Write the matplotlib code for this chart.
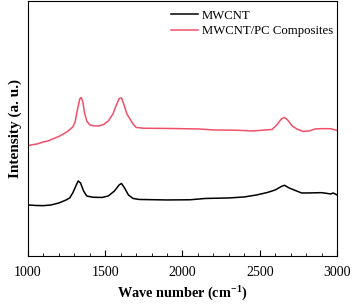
import matplotlib.pyplot as plt
from matplotlib.ticker import MultipleLocator

plt.rcParams['font.family'] = ['Liberation Serif', 'DejaVu Serif']

# wave numbers (cm-1) and intensities (a. u.)
wn_cnt = [1000, 1050, 1100, 1150, 1200, 1240, 1270, 1290, 1310, 1325, 1340, 1360,
          1380, 1420, 1480, 1520, 1560, 1590, 1605, 1625, 1650, 1680, 1720, 1900,
          2050, 2150, 2300, 2400, 2480, 2550, 2600, 2640, 2660, 2690, 2730, 2770,
          2820, 2900, 2960, 2975, 3000]
px_cnt = [205, 205.5, 205.7, 205, 203, 200.5, 198, 193, 186, 181, 183, 191,
          196, 197.3, 197.5, 196, 191, 185, 183.5, 188, 195, 198.5, 199.5, 200,
          199.8, 198.5, 198, 197, 195, 192.5, 190, 186.5, 185.3, 188, 190.5, 193,
          193, 192.7, 194, 193, 195]

wn_pc = [1000, 1020, 1040, 1060, 1080, 1100, 1130, 1160, 1200, 1230, 1260, 1290,
         1305, 1320, 1335, 1345, 1355, 1365, 1380, 1400, 1430, 1460, 1490, 1520,
         1550, 1570, 1590, 1605, 1620, 1640, 1660, 1680, 1700, 1750, 1900, 2100,
         2200, 2350, 2450, 2500, 2580, 2610, 2640, 2660, 2680, 2710, 2740, 2780,
         2820, 2860, 2900, 2960, 3000]
px_pc = [146, 145, 144.5, 144, 143, 142, 141, 139, 136.5, 134, 131, 127,
         122, 110, 99, 97.5, 102, 112, 121, 125, 126, 126, 124.5, 121,
         114, 106, 98.5, 98, 104, 114, 119, 124, 127.5, 128.3, 128.5, 129,
         130, 130.3, 131, 130.5, 129.5, 125, 119, 117.5, 120, 126, 129, 131.5,
         131, 129, 128.7, 128.8, 130.5]

i_cnt = [256 - v for v in px_cnt]
i_pc = [256 - v for v in px_pc]

fig = plt.figure(figsize=(3.54, 3.04), dpi=100)
ax = fig.add_axes([0.079, 0.158, 0.873, 0.839])

ax.plot(wn_cnt, i_cnt, color='black', lw=1.1, label='MWCNT')
ax.plot(wn_pc, i_pc, color='#f0506a', lw=1.1, label='MWCNT/PC Composites')

ax.set_xlim(1000, 3000)
ax.set_ylim(0, 255)
ax.xaxis.set_major_locator(MultipleLocator(500))
ax.xaxis.set_minor_locator(MultipleLocator(100))
ax.tick_params(axis='x', which='major', direction='in', length=4, labelsize=10, pad=7)
ax.tick_params(axis='x', which='minor', direction='in', length=2)
ax.set_yticks([])

ax.set_xlabel('Wave number (cm$^{\\mathregular{-1}}$)', fontsize=10.3, fontweight='bold', labelpad=3)
ax.set_ylabel('Intensity (a. u.)', fontsize=11, fontweight='bold', labelpad=4)

ax.legend(loc='upper right', frameon=False, fontsize=9.2, handlelength=2.1,
          handletextpad=0.3, labelspacing=0.25, borderaxespad=0.2,
          bbox_to_anchor=(1.012, 0.995))

fig.savefig('out.png', dpi=100)
